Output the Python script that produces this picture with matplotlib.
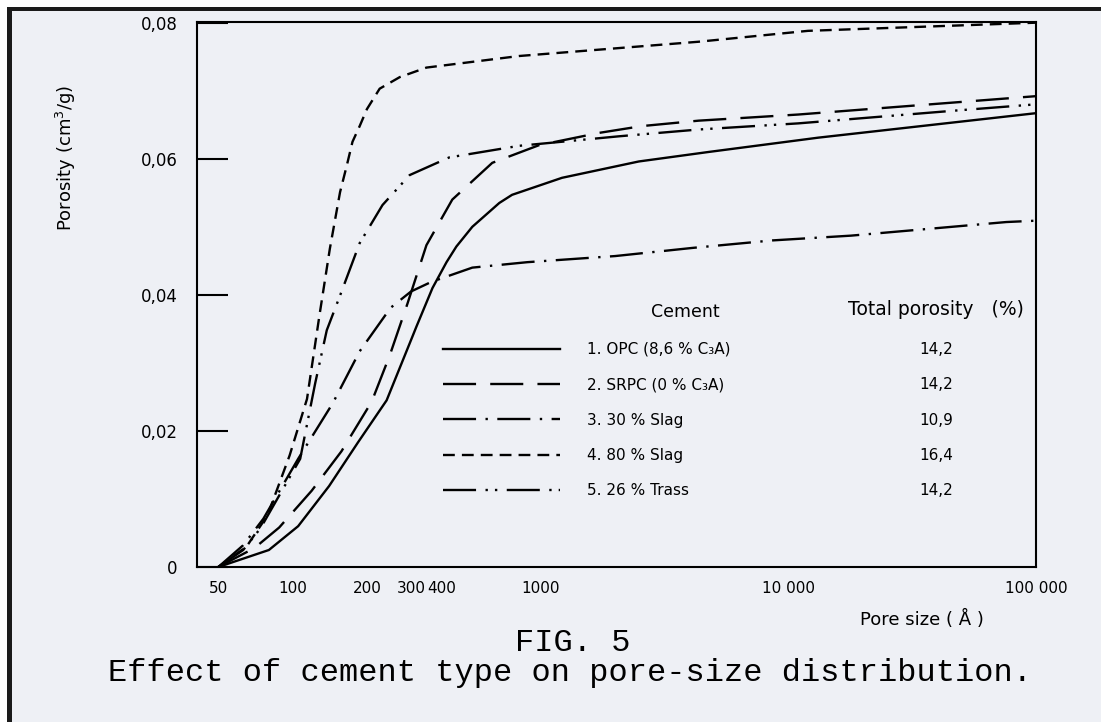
import matplotlib
matplotlib.use("Agg")
import matplotlib.pyplot as plt
from matplotlib.lines import Line2D
from matplotlib.patches import Rectangle
from matplotlib.ticker import FixedLocator, NullFormatter

# values: pore size (A) vs porosity (cm3/g)
opc_size = [50, 80, 105, 140, 183, 239, 304, 315, 366, 417, 457, 530, 681, 767, 1220, 2490, 4770,
            13200, 100000]
opc_por = [0, 0.0025, 0.006, 0.0119, 0.0183, 0.0245, 0.0339, 0.0353, 0.0410, 0.0448, 0.0471, 0.0500,
           0.0535, 0.0547, 0.0572, 0.0596, 0.0610, 0.0631, 0.0667]

srpc_size = [50, 70, 88, 119, 157, 208, 246, 290, 346, 440, 638, 986, 1720, 2560, 4345, 10960, 100000]
srpc_por = [0, 0.0028, 0.0058, 0.0112, 0.0170, 0.0243, 0.0311, 0.0387, 0.0473, 0.0540, 0.0594, 0.0620,
            0.0638, 0.0648, 0.0656, 0.0665, 0.0692]

slag30_size = [50, 63, 76, 105, 145, 186, 248, 300, 362, 530, 883, 2000, 4110, 8630, 17900, 36900,
               75900, 100000]
slag30_por = [0, 0.0032, 0.0071, 0.0159, 0.0241, 0.0317, 0.0381, 0.0405, 0.0419, 0.0440, 0.0448, 0.0457,
              0.0469, 0.0480, 0.0487, 0.0497, 0.0507, 0.0509]

slag80_size = [50, 65, 79, 97, 114, 128, 141, 155, 165, 174, 186, 199, 224, 270, 346, 818, 4345, 12000,
               100000]
slag80_por = [0, 0.0030, 0.0076, 0.0164, 0.0247, 0.0370, 0.0468, 0.0551, 0.0590, 0.0625, 0.0648, 0.0673,
              0.0703, 0.0720, 0.0734, 0.0751, 0.0772, 0.0788, 0.0800]

trass_size = [50, 63, 74, 107, 123, 137, 155, 186, 230, 296, 428, 818, 2070, 4345, 10960, 48000, 100000]
trass_por = [0, 0.0025, 0.0057, 0.0159, 0.0270, 0.0348, 0.0399, 0.0476, 0.0532, 0.0576, 0.0602, 0.0619,
             0.0633, 0.0643, 0.0652, 0.0671, 0.0680]

labels = ["1. OPC (8,6 % C\u2083A)", "2. SRPC (0 % C\u2083A)", "3. 30 % Slag", "4. 80 % Slag", "5. 26 % Trass"]
total_porosity = ["14,2", "14,2", "10,9", "16,4", "14,2"]

x_ticks = [50, 100, 200, 300, 400, 1000, 10000, 100000]
x_ticklabels = ["50", "100", "200", "300", "400", "1000", "10 000", "100 000"]
y_ticks = [0, 0.02, 0.04, 0.06, 0.08]
y_ticklabels = ["0", "0,02", "0,04", "0,06", "0,08"]

paper = "#eef0f5"
styles = ["-", (0, (14, 6)), (0, (14, 4, 1, 4)), (0, (5, 3)), (0, (14, 4, 1, 3, 1, 4))]
series = [(opc_size, opc_por), (srpc_size, srpc_por), (slag30_size, slag30_por),
          (slag80_size, slag80_por), (trass_size, trass_por)]

fig = plt.figure(figsize=(11.01, 7.22), dpi=100, facecolor=paper)
ax = fig.add_axes([197 / 1101, 155 / 722, 839 / 1101, 545 / 722])
ax.set_facecolor(paper)

for (xs, ys), ls in zip(series, styles):
    ax.plot(xs, ys, color="black", lw=1.7, linestyle=ls)

ax.set_xscale("log")
ax.set_xlim(41, 100000)
ax.set_ylim(0, 0.0801)

ax.set_xticks(x_ticks)
ax.set_xticklabels(x_ticklabels)
ax.xaxis.set_minor_locator(FixedLocator([100, 10000]))
ax.xaxis.set_minor_formatter(NullFormatter())
ax.tick_params(axis="x", which="major", length=0, pad=10, labelsize=11)
ax.tick_params(axis="x", which="minor", direction="in", length=16, width=1.2)

ax.set_yticks(y_ticks)
ax.set_yticklabels(y_ticklabels)
ax.tick_params(axis="y", direction="in", length=22, width=1.5, pad=14, labelsize=12)

for s in ax.spines.values():
    s.set_linewidth(1.5)

ax.set_ylabel("Porosity (cm$^3$/g)", fontsize=13)
ax.yaxis.set_label_coords(-0.142, 0.75)
ax.set_xlabel("Pore size ( \u00c5 )", fontsize=13)
ax.xaxis.set_label_coords(0.864, -0.079)

# legend: line samples + cement names, second column holds total porosity
handles = [Line2D([], [], color="black", lw=1.7, linestyle=ls) for ls in styles]
blanks = [Line2D([], [], color="none") for _ in total_porosity]
ax.legend(handles + blanks, labels + total_porosity, ncol=2, loc="upper left",
          bbox_to_anchor=((443 - 197) / 839, 0.413), frameon=False, fontsize=11,
          handlelength=7.66, handletextpad=1.77, labelspacing=1.33, columnspacing=2.95,
          borderpad=0, borderaxespad=0)
ax.text(0.5816, 0.468, "Cement", transform=ax.transAxes, ha="center", va="center", fontsize=12.5)
ax.text(0.881, 0.4716, "Total porosity   (%)", transform=ax.transAxes, ha="center", va="center",
        fontsize=13.5)

fig.text(0.52, 1 - 643 / 722, "FIG. 5", family="Liberation Mono", fontsize=23,
         ha="center", va="center")
fig.text(0.5177, 1 - 673 / 722, "Effect of cement type on pore-size distribution.",
         family="Liberation Mono", fontsize=23, ha="center", va="center")

# scan border
fig.patches.extend([
    Rectangle((0, 1 - 7 / 722), 1, 7 / 722, transform=fig.transFigure, facecolor="white", edgecolor="none"),
    Rectangle((0, 0), 7 / 1101, 1, transform=fig.transFigure, facecolor="white", edgecolor="none"),
    Rectangle((7 / 1101, 1 - 11 / 722), 1, 4 / 722, transform=fig.transFigure, facecolor="#1a1a1a",
              edgecolor="none"),
    Rectangle((7 / 1101, 0), 5 / 1101, 1 - 7 / 722, transform=fig.transFigure, facecolor="#1a1a1a",
              edgecolor="none"),
])

fig.savefig("out.png", dpi=100, facecolor=paper)
